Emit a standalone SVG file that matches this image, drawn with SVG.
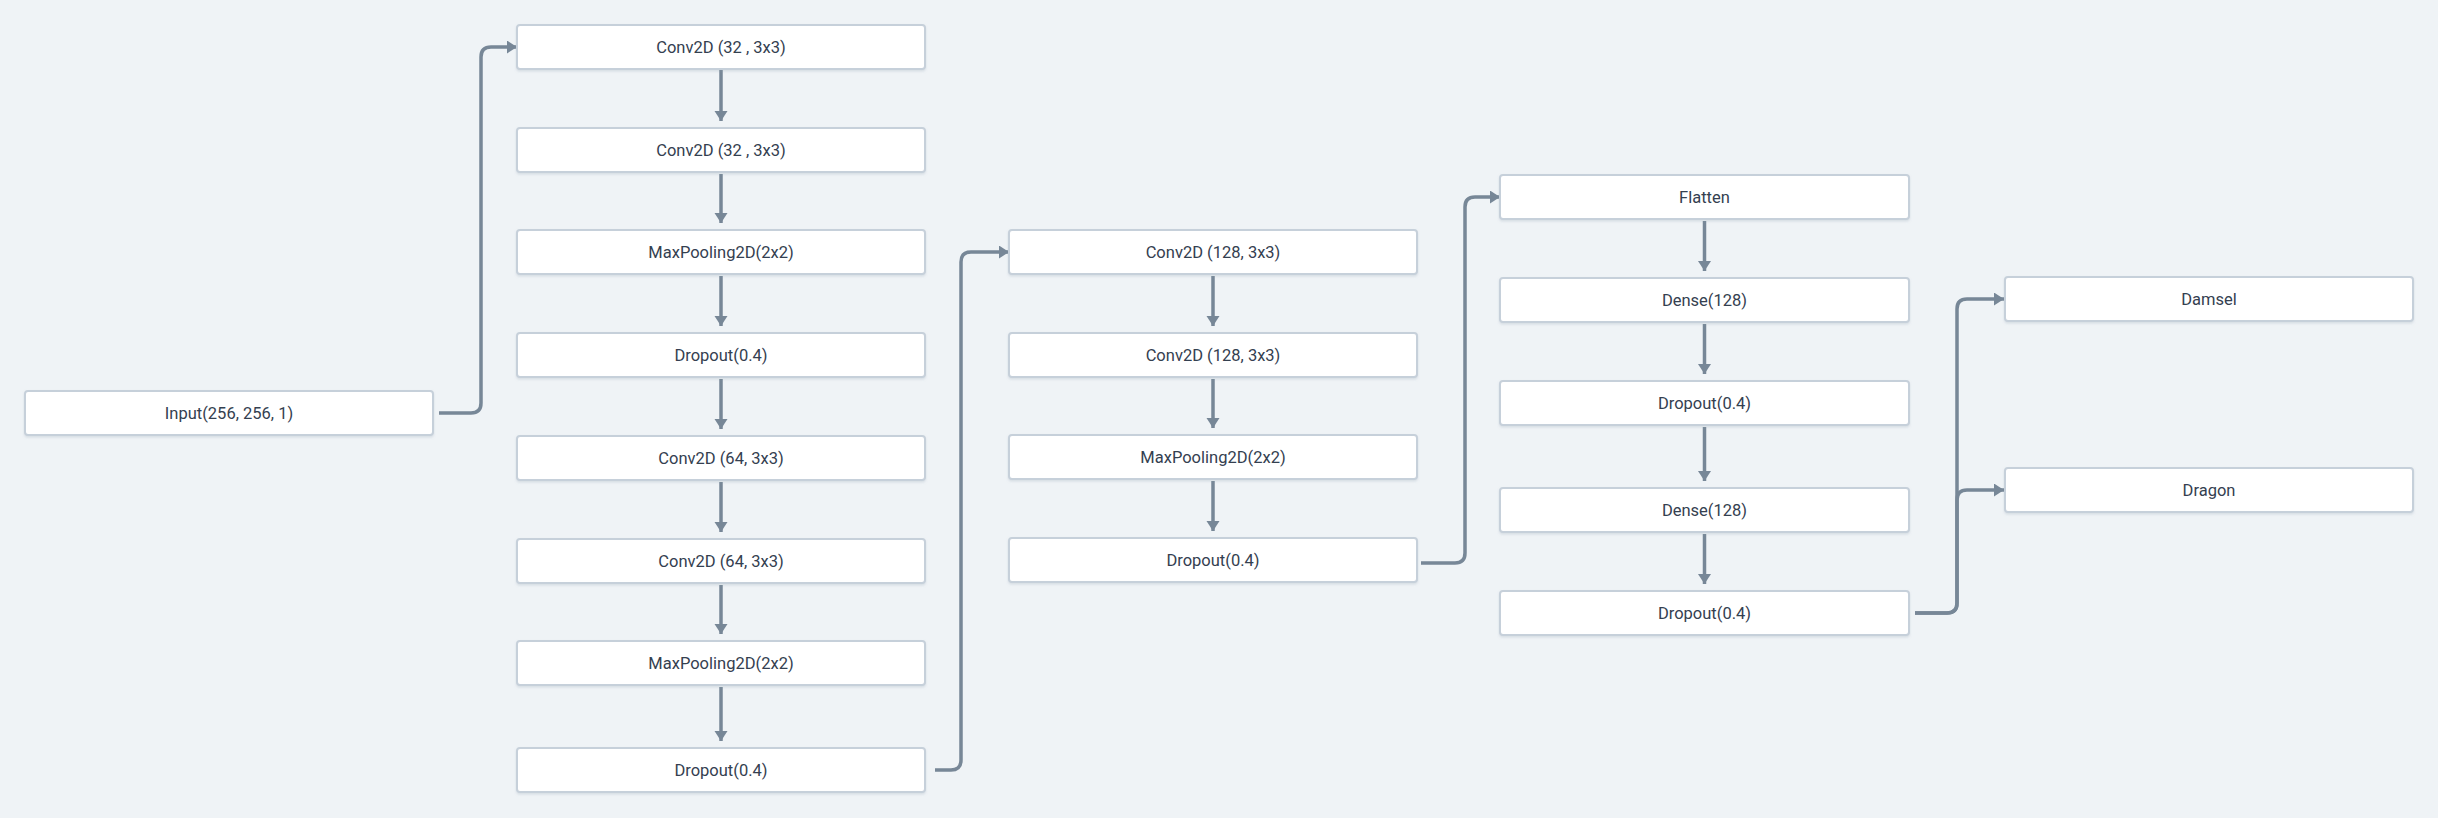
<svg xmlns="http://www.w3.org/2000/svg" width="2438" height="818" viewBox="0 0 2438 818">
<defs>
<style>
.node rect{fill:#ffffff;stroke:#c6d0da;stroke-width:2;filter:url(#sh)}
.node text{font-family:Roboto,"Liberation Sans",sans-serif;font-size:16.5px;fill:#344050;text-anchor:middle;dominant-baseline:central}
.edges path{fill:none;stroke:#778797;stroke-width:3.5;marker-end:url(#ah)}
</style>
<marker id="ah" markerUnits="userSpaceOnUse" markerWidth="12" markerHeight="14" refX="10" refY="6.5" orient="auto">
<path d="M0,0 L10,6.5 L0,13 z" fill="#778797"/>
</marker>
<filter id="sh" x="-5%" y="-20%" width="110%" height="150%">
<feDropShadow dx="0" dy="1.5" stdDeviation="1" flood-color="#8a9aaa" flood-opacity="0.25"/>
</filter>
</defs>
<rect width="2438" height="818" fill="#eff3f6"/>
<g class="edges">
<path d="M439,413 H471 Q481,413 481,403 V57 Q481,47 491,47 H517"/>
<path d="M721,70 V121"/>
<path d="M721,174 V223"/>
<path d="M721,276 V326"/>
<path d="M721,379 V429"/>
<path d="M721,482 V532"/>
<path d="M721,585 V634"/>
<path d="M721,687 V741"/>
<path d="M935,770 H951 Q961,770 961,760 V262 Q961,252 971,252 H1009"/>
<path d="M1213,276 V326"/>
<path d="M1213,379 V428"/>
<path d="M1213,481 V531"/>
<path d="M1421,563 H1455 Q1465,563 1465,553 V207 Q1465,197 1475,197 H1500"/>
<path d="M1704.5,221 V271"/>
<path d="M1704.5,324 V374"/>
<path d="M1704.5,427 V481"/>
<path d="M1704.5,534 V584"/>
<path d="M1915,613 H1947 Q1957,613 1957,603 V309 Q1957,299 1967,299 H2004"/>
<path d="M1915,613 H1947 Q1957,613 1957,603 V500 Q1957,490 1967,490 H2004"/>
</g>
<g id="input" class="node"><rect x="25" y="391" width="408" height="44" rx="3"/><text x="229" y="413">Input(256, 256, 1)</text></g>
<g id="c1n1" class="node"><rect x="517" y="25" width="408" height="44" rx="3"/><text x="721" y="47">Conv2D (32 , 3x3)</text></g>
<g id="c1n2" class="node"><rect x="517" y="128" width="408" height="44" rx="3"/><text x="721" y="150">Conv2D (32 , 3x3)</text></g>
<g id="c1n3" class="node"><rect x="517" y="230" width="408" height="44" rx="3"/><text x="721" y="252">MaxPooling2D(2x2)</text></g>
<g id="c1n4" class="node"><rect x="517" y="333" width="408" height="44" rx="3"/><text x="721" y="355">Dropout(0.4)</text></g>
<g id="c1n5" class="node"><rect x="517" y="436" width="408" height="44" rx="3"/><text x="721" y="458">Conv2D (64, 3x3)</text></g>
<g id="c1n6" class="node"><rect x="517" y="539" width="408" height="44" rx="3"/><text x="721" y="561">Conv2D (64, 3x3)</text></g>
<g id="c1n7" class="node"><rect x="517" y="641" width="408" height="44" rx="3"/><text x="721" y="663">MaxPooling2D(2x2)</text></g>
<g id="c1n8" class="node"><rect x="517" y="748" width="408" height="44" rx="3"/><text x="721" y="770">Dropout(0.4)</text></g>
<g id="c2n1" class="node"><rect x="1009" y="230" width="408" height="44" rx="3"/><text x="1213" y="252">Conv2D (128, 3x3)</text></g>
<g id="c2n2" class="node"><rect x="1009" y="333" width="408" height="44" rx="3"/><text x="1213" y="355">Conv2D (128, 3x3)</text></g>
<g id="c2n3" class="node"><rect x="1009" y="435" width="408" height="44" rx="3"/><text x="1213" y="457">MaxPooling2D(2x2)</text></g>
<g id="c2n4" class="node"><rect x="1009" y="538" width="408" height="44" rx="3"/><text x="1213" y="560">Dropout(0.4)</text></g>
<g id="c3n1" class="node"><rect x="1500" y="175" width="409" height="44" rx="3"/><text x="1704.5" y="197">Flatten</text></g>
<g id="c3n2" class="node"><rect x="1500" y="278" width="409" height="44" rx="3"/><text x="1704.5" y="300">Dense(128)</text></g>
<g id="c3n3" class="node"><rect x="1500" y="381" width="409" height="44" rx="3"/><text x="1704.5" y="403">Dropout(0.4)</text></g>
<g id="c3n4" class="node"><rect x="1500" y="488" width="409" height="44" rx="3"/><text x="1704.5" y="510">Dense(128)</text></g>
<g id="c3n5" class="node"><rect x="1500" y="591" width="409" height="44" rx="3"/><text x="1704.5" y="613">Dropout(0.4)</text></g>
<g id="damsel" class="node"><rect x="2005" y="277" width="408" height="44" rx="3"/><text x="2209" y="299">Damsel</text></g>
<g id="dragon" class="node"><rect x="2005" y="468" width="408" height="44" rx="3"/><text x="2209" y="490">Dragon</text></g>
</svg>
